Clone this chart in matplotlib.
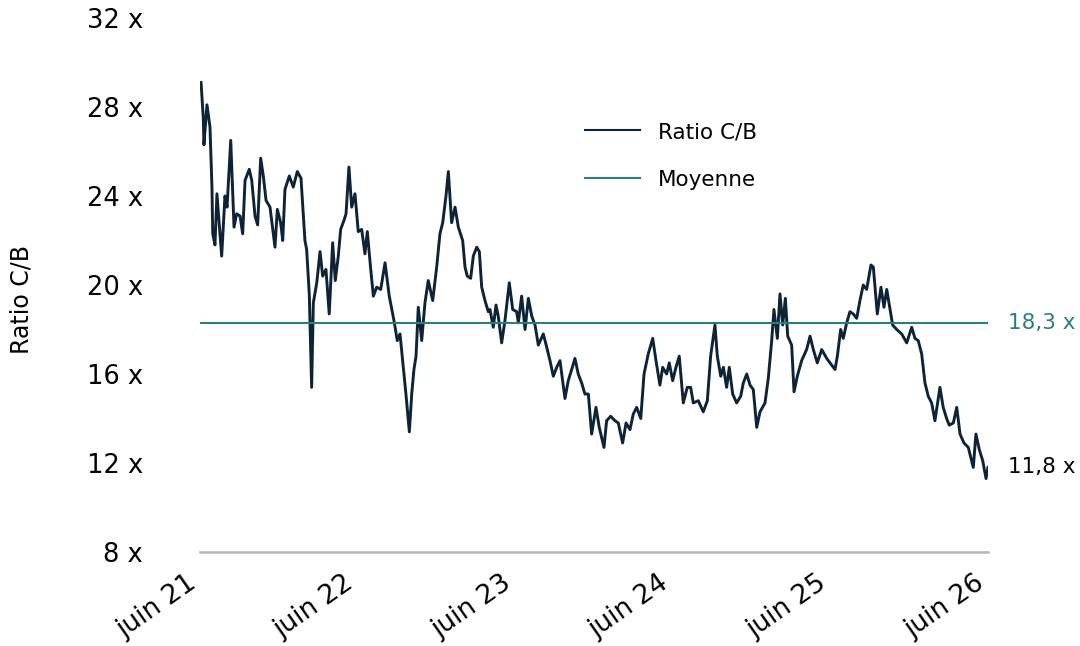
import matplotlib
matplotlib.use("Agg")
import matplotlib.pyplot as plt
from matplotlib.transforms import ScaledTranslation

# months since juin 21, ratio C/B
months = [0.08, 0.25, 0.30, 0.53, 0.76, 0.91, 0.97, 1.14, 1.29, 1.65, 1.90, 2.06, 2.34, 2.49, 2.59,
          2.79, 3.05, 3.25, 3.43, 3.75, 3.94, 4.19, 4.39, 4.62, 4.82, 5.03, 5.33, 5.71, 5.89, 6.14,
          6.30, 6.47, 6.80, 7.10, 7.41, 7.69, 7.99, 8.12, 8.32, 8.50, 8.63, 8.89, 9.14, 9.34, 9.59,
          9.84, 10.10, 10.30, 10.53, 10.71, 10.96, 11.12, 11.34, 11.55, 11.80, 12.05, 12.31, 12.56,
          12.74, 13.00, 13.20, 13.45, 13.76, 14.09, 14.41, 14.77, 15.02, 15.23, 15.48, 15.68, 15.94,
          16.12, 16.29, 16.45, 16.62, 16.88, 17.13, 17.38, 17.72, 18.02, 18.27, 18.48, 18.73, 18.91,
          19.16, 19.42, 19.67, 20.00, 20.18, 20.35, 20.61, 20.81, 21.07, 21.27, 21.45, 21.70, 21.95,
          22.08, 22.33, 22.54, 22.71, 22.97, 23.22, 23.55, 23.81, 24.11, 24.24, 24.49, 24.75, 25.00,
          25.26, 25.51, 25.76, 26.14, 26.40, 26.65, 26.90, 27.16, 27.41, 27.79, 28.04, 28.30, 28.55,
          28.80, 29.06, 29.31, 29.57, 29.82, 30.15, 30.40, 30.76, 30.96, 31.27, 31.60, 31.85, 32.18,
          32.44, 32.74, 32.99, 33.25, 33.56, 33.81, 34.13, 34.47, 34.72, 35.02, 35.23, 35.53, 35.73,
          35.99, 36.24, 36.49, 36.80, 37.10, 37.36, 37.56, 37.94, 38.32, 38.63, 38.88, 39.21, 39.39,
          39.65, 39.85, 40.10, 40.30, 40.56, 40.86, 41.17, 41.37, 41.63, 41.88, 42.13, 42.39, 42.64,
          43.02, 43.27, 43.53, 43.70, 43.96, 44.16, 44.37, 44.57, 44.75, 45.05, 45.23, 45.48, 45.81,
          46.19, 46.45, 46.70, 47.00, 47.34, 47.72, 48.10, 48.35, 48.53, 48.78, 48.98, 49.24, 49.49,
          49.74, 50.00, 50.25, 50.50, 50.76, 51.09, 51.27, 51.57, 51.85, 52.08, 52.29, 52.54, 52.74,
          53.05, 53.43, 53.81, 54.19, 54.44, 54.69, 54.95, 55.20, 55.45, 55.71, 55.96, 56.34, 56.59,
          56.85, 57.05, 57.36, 57.62, 57.87, 58.17, 58.50, 58.88, 59.08, 59.34, 59.60, 59.85, 60.00]
ratio = [29.1, 27.5, 26.3, 28.1, 27.1, 24.4, 22.3, 21.8, 24.1, 21.3, 24.0, 23.5, 26.5, 24.1, 22.6,
         23.2, 23.1, 22.3, 24.7, 25.2, 24.7, 23.1, 22.7, 25.7, 24.9, 23.8, 23.5, 21.7, 23.4, 22.8,
         22.0, 24.3, 24.9, 24.4, 25.1, 24.8, 22.0, 21.6, 19.6, 15.4, 19.2, 20.1, 21.5, 20.4, 20.7,
         18.7, 21.9, 20.2, 21.3, 22.5, 22.9, 23.2, 25.3, 23.5, 24.1, 22.4, 22.5, 21.4,
         22.4, 20.7, 19.5, 19.9, 19.8, 21.0, 19.5, 18.4, 17.5, 17.8, 16.3, 15.1, 13.4,
         15.1, 16.2, 16.8, 19.0, 17.5, 19.2, 20.2, 19.3, 20.8, 22.3, 22.8, 24.0, 25.1,
         22.8, 23.5, 22.6, 22.0, 20.8, 20.4, 20.3, 21.3, 21.7, 21.5, 19.9, 19.3, 18.8,
         18.9, 18.1, 19.1, 18.6, 17.4, 18.4, 20.1, 18.9, 18.8, 18.3, 19.5, 18.0, 19.4,
         18.6, 18.2, 17.3, 17.8, 17.2, 16.6, 15.9, 16.3, 16.6, 14.9, 15.7, 16.2, 16.7,
         16.0, 15.6, 15.1, 15.1, 13.3, 14.5, 13.6, 12.7, 13.9, 14.1, 13.9, 13.8, 12.9,
         13.8, 13.5, 14.2, 14.5, 14.0, 16.0, 16.9, 17.6, 16.6, 15.5, 16.3, 16.0, 16.5,
         15.7, 16.3, 16.8, 14.7, 15.4, 15.4, 14.7, 14.8, 14.3, 14.8, 16.8, 18.2, 16.8,
         15.9, 16.3, 15.4, 16.3, 15.1, 14.7, 15.0, 15.6, 16.0, 15.5, 15.3, 13.6, 14.3,
         14.7, 15.8, 17.5, 18.9, 17.6, 19.6, 18.2, 19.4, 17.7, 17.3, 15.2, 15.9, 16.6,
         17.1, 17.7, 17.1, 16.5, 17.1, 16.7, 16.4, 16.2, 16.8, 18.0, 17.6, 18.3, 18.8,
         18.7, 18.5, 19.3, 20.0, 19.8, 20.9, 20.8, 18.7, 19.9, 19.0, 19.8, 18.9, 18.2,
         18.0, 17.8, 17.4, 18.1, 17.6, 17.5, 16.9, 15.6, 15.0, 14.7, 13.9, 15.4, 14.5,
         14.0, 13.7, 13.8, 14.5, 13.3, 12.9, 12.7, 11.8, 13.3, 12.6, 12.1, 11.3, 11.8]
mean_value = 18.3
last_value = 11.8

tick_months = [0, 12, 24, 36, 48, 60]
tick_labels = ['juin 21', 'juin 22', 'juin 23', 'juin 24', 'juin 25', 'juin 26']
y_ticks = [8, 12, 16, 20, 24, 28, 32]

navy = '#0e2436'
teal = '#2a7f7a'

fig = plt.figure(figsize=(10.8, 6.46), dpi=100)
ax = fig.add_axes([200/1080, 1-552/646, 788/1080, 534/646])

ax.plot(months, ratio, color=navy, lw=2.1, label='Ratio C/B')
ax.axhline(mean_value, color=teal, lw=1.5, label='Moyenne')

ax.set_xlim(0, 60)
ax.set_ylim(8, 32)
ax.set_yticks(y_ticks)
ax.set_yticklabels([f'{v} x' for v in y_ticks], fontsize=18.5)
ax.set_xticks(tick_months)
ax.set_xticklabels(tick_labels, fontsize=19, rotation=35, ha='right', rotation_mode='anchor')
ax.tick_params(axis='both', length=0)
ax.tick_params(axis='y', pad=41)
ax.tick_params(axis='x', pad=13)
shift = ScaledTranslation(-14/100, 0, fig.dpi_scale_trans)
for lab in ax.get_xticklabels():
    lab.set_transform(lab.get_transform() + shift)

for s in ['top', 'right', 'left']:
    ax.spines[s].set_visible(False)
ax.spines['bottom'].set_color('#b7b7b0')
ax.spines['bottom'].set_linewidth(1.8)

fig.text(22/1080, 1-300/646, 'Ratio C/B', rotation=90, fontsize=17, ha='center', va='center')

ax.text(1.025, (mean_value-8)/24, f'{mean_value:.1f} x'.replace('.', ','), transform=ax.transAxes,
        color=teal, fontsize=15.5, ha='left', va='center')
ax.text(1.025, (last_value-8)/24, f'{last_value:.1f} x'.replace('.', ','), transform=ax.transAxes,
        color='black', fontsize=15.5, ha='left', va='center')

leg = ax.legend(loc='center left', bbox_to_anchor=(585/1080, 1-156/646), bbox_transform=fig.transFigure,
                frameon=False, fontsize=15.5, handlelength=2.56, handletextpad=0.84, labelspacing=1.3,
                borderpad=0, borderaxespad=0)
for line in leg.get_lines():
    line.set_linewidth(1.5)

fig.savefig('out.png', dpi=100)
